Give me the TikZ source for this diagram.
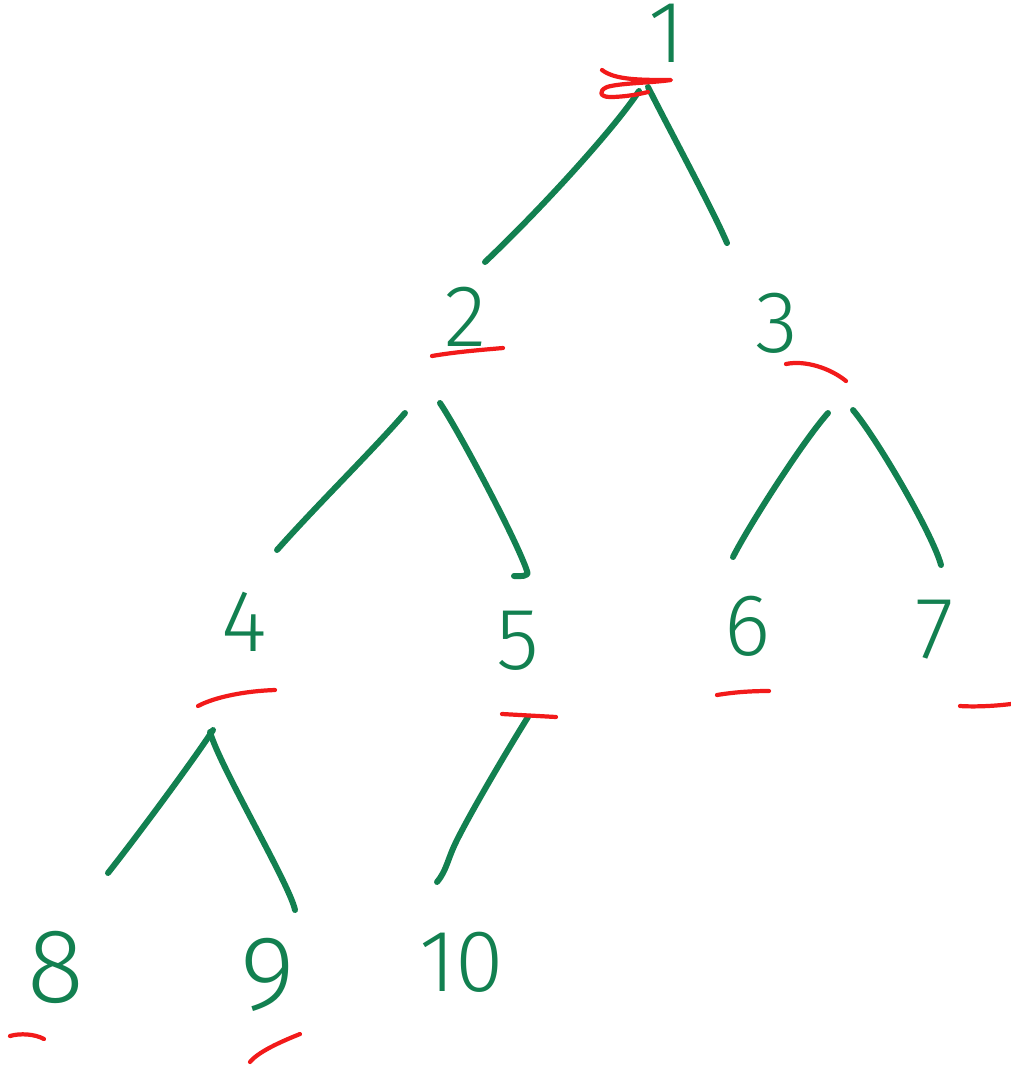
\documentclass[tikz,border=0pt]{standalone}
\usepackage{fontspec}
\setsansfont{Fira Sans}[UprightFont=* Light]

\begin{document}
\begin{tikzpicture}[
    x=0.02cm, y=-0.02cm,
    every node/.style={font=\sffamily},
]

% ---------------------------------------------------------------- colours
\definecolor{inkgreen}{HTML}{128050}   % keys and branches
\definecolor{inkred}{HTML}{F21A1A}     % the marks under each key

\tikzset{
    key/.style={inner sep=0pt, text=inkgreen,
                font=\sffamily\fontsize{50}{50}\selectfont},
    bigkey/.style={key, font=\sffamily\fontsize{60}{60}\selectfont},
    branch/.style={draw=inkgreen, line width=3.4pt, line cap=round, line join=round},
    tick/.style={draw=inkred, line width=2.4pt, line cap=round, line join=round},
}

% ================================================================
% Page units are pixels, y running down:
%   level 0   y ~  35
%   level 1   y ~ 320
%   level 2   y ~ 630
%   level 3   y ~ 965
% ================================================================
\useasboundingbox (0,0) rectangle (1011,1066);

% ----------------------------------------------------------------------
% keys
% ----------------------------------------------------------------------
\node[key] (n1)  at (667, 33)  {1};

\node[key] (n2)  at (466, 317) {2};
\node[key] (n3)  at (777, 323) {3};

\node[key] (n4)  at (244, 622) {4};
\node[key] (n5)  at (518, 641) {5};
\node[key] (n6)  at (748, 626) {6};
\node[key] (n7)  at (935, 630) {7};

\node[bigkey] (n8)  at (56, 967)  {8};
\node[bigkey] (n9)  at (268, 975) {9};
\node[key] (n10) at (462, 962) {10};

% ----------------------------------------------------------------------
% branches (the pen stops short of the digits, hence the offsets)
% ----------------------------------------------------------------------
\draw[branch] ([shift={(-28,58)}]n1.center)
    .. controls +(-25,38) and +(55,-52) .. ([shift={(19,-55)}]n2.center);
\draw[branch] ([shift={(-19,54)}]n1.center)
    .. controls +(20,40) and +(-15,-35) .. ([shift={(-50,-80)}]n3.center);

\draw[branch] ([shift={(-61,96)}]n2.center)
    .. controls +(-30,35) and +(40,-45) .. ([shift={(33,-72)}]n4.center);
\draw[branch] ([shift={(-26,86)}]n2.center)
    .. controls +(20,30) and +(-10,-30) .. ([shift={(9,-70)}]n5.center)
    .. controls +(3,6) and +(6,0) .. ++(-13,5);

\draw[branch] ([shift={(51,90)}]n3.center)
    .. controls +(-25,28) and +(15,-30) .. ([shift={(-15,-69)}]n6.center);
\draw[branch] ([shift={(76,87)}]n3.center)
    .. controls +(25,30) and +(-8,-30) .. ([shift={(6,-65)}]n7.center);

\draw[branch] ([shift={(-31,108)}]n4.center)
    .. controls +(-18,28) and +(30,-38) .. ([shift={(52,-94)}]n8.center);
\draw[branch] ([shift={(-34,110)}]n4.center)
    .. controls +(10,35) and +(-5,-25) .. ([shift={(27,-65)}]n9.center);

\draw[branch] ([shift={(10,76)}]n5.center)
    .. controls +(-20,32) and +(15,-30) .. ([shift={(-5,-122)}]n10.center)
    .. controls +(-10,20) and +(10,-12) .. ([shift={(-25,-80)}]n10.center);

% ----------------------------------------------------------------------
% red marks
% ----------------------------------------------------------------------
% the scribble through the root
\draw[tick] (602,70) .. controls (615,80) and (640,80) .. (671,80)
    .. controls (650,83) and (620,83) .. (607,87)
    .. controls (598,91) and (600,97) .. (610,97)
    .. controls (625,97) and (640,94) .. (648,92);

\draw[tick] (432,356) .. controls (455,352) and (480,350) .. (503,348);
\draw[tick] (786,364) .. controls (805,360) and (830,368) .. (846,381);
\draw[tick] (198,706) .. controls (215,697) and (245,691) .. (275,690);
\draw[tick] (502,714) -- (556,717);
\draw[tick] (717,695) .. controls (735,692) and (752,691) .. (769,691);
\draw[tick] (960,706) .. controls (975,707) and (995,706) .. (1011,704);
\draw[tick] (10,1036) .. controls (20,1033) and (35,1034) .. (44,1039);
\draw[tick] (250,1062) .. controls (258,1052) and (280,1042) .. (300,1034);

\end{tikzpicture}
\end{document}
